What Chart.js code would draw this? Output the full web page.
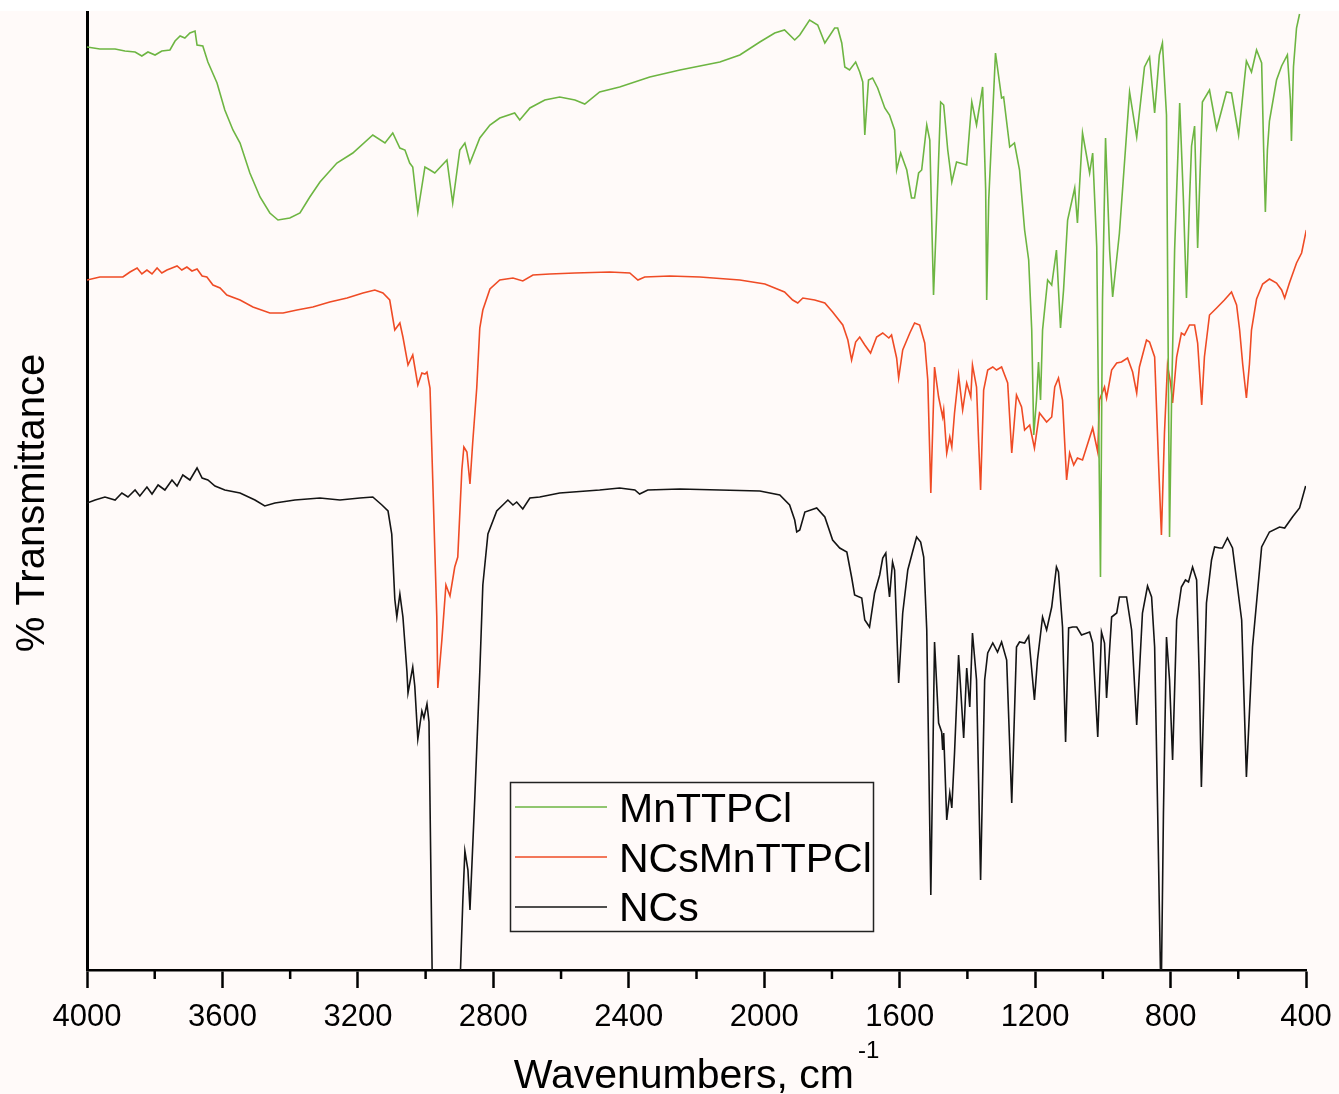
<!DOCTYPE html>
<html>
<head>
<meta charset="utf-8">
<script src="https://cdn.jsdelivr.net/npm/chart.js@4.4.1/dist/chart.umd.min.js"></script>
<style>
  html, body { margin: 0; padding: 0; background: #fffaf9; }
  #wrap { width: 1339px; height: 1094px; }
</style>
</head>
<body>
<div id="wrap"><canvas id="ftir" width="1339" height="1094"></canvas></div>
<script>
const seriesNames = ["MnTTPCl", "NCsMnTTPCl", "NCs"];
const seriesColors = ["#6db542", "#ef4b25", "#141414"];
const xTitle = "Wavenumbers, cm";
const xTitleSup = "-1";
const yTitle = "% Transmittance";

// MnTTPCl (offset trace, top)
const mnWavenumbers = [
  4000, 3962, 3917, 3888, 3858, 3838, 3820, 3799, 3779, 3755,
  3740, 3725, 3711, 3696, 3681, 3675, 3658, 3643, 3616, 3593,
  3569, 3548, 3519, 3489, 3460, 3436, 3401, 3371, 3342, 3312,
  3262, 3215, 3156, 3120, 3097, 3076, 3061, 3047, 3038, 3023,
  3002, 2987, 2973, 2937, 2920, 2899, 2884, 2869, 2840, 2810,
  2781, 2737, 2722, 2692, 2648, 2604, 2559, 2530, 2486, 2427,
  2338, 2249, 2190, 2131, 2072, 2013, 1969, 1940, 1910, 1895,
  1866, 1842, 1821, 1792, 1783, 1771, 1762, 1748, 1730, 1718,
  1709, 1703, 1692, 1680, 1665, 1644, 1630, 1615, 1609, 1597,
  1579, 1565, 1556, 1544, 1535, 1520, 1511, 1500, 1491, 1479,
  1470, 1458, 1446, 1432, 1402, 1387, 1373, 1355, 1346, 1343,
  1337, 1317, 1299, 1293, 1275, 1261, 1246, 1231, 1219, 1210,
  1204, 1196, 1190, 1184, 1178, 1163, 1151, 1137, 1125, 1116,
  1104, 1083, 1075, 1060, 1039, 1030, 1018, 1013, 1007, 1001,
  992, 980, 971, 951, 921, 900, 877, 862, 847, 833,
  824, 812, 806, 803, 797, 788, 773, 762, 753, 744,
  738, 729, 720, 706, 685, 664, 649, 635, 620, 599,
  576, 561, 546, 531, 525, 520, 514, 508, 487, 472,
  455, 446, 443, 437, 428, 419,
];
const mnTransmittance = [
  92.3, 92.1, 92.1, 91.9, 91.8, 91.4, 91.8, 91.5, 91.9, 92.0,
  92.9, 93.4, 93.2, 93.7, 93.9, 92.5, 92.4, 90.8, 88.7, 86.0,
  84.0, 82.7, 79.7, 77.3, 75.7, 75.0, 75.2, 75.7, 77.3, 78.8,
  80.7, 81.7, 83.5, 82.7, 83.7, 82.2, 82.0, 80.7, 80.3, 75.8,
  80.3, 80.0, 79.7, 81.0, 76.7, 82.0, 82.7, 80.7, 83.2, 84.5,
  85.2, 85.7, 85.0, 86.2, 87.0, 87.3, 87.0, 86.6, 87.8, 88.3,
  89.3, 90.0, 90.4, 90.8, 91.5, 92.8, 93.7, 94.0, 93.0, 93.5,
  95.0, 94.5, 92.7, 94.2, 94.2, 92.7, 90.3, 90.0, 90.8, 89.8,
  88.8, 83.5, 89.0, 89.2, 88.2, 86.2, 85.5, 84.0, 80.0, 81.7,
  80.0, 77.2, 77.2, 79.7, 80.0, 84.5, 83.0, 67.5, 75.3, 86.8,
  86.5, 82.0, 78.8, 80.8, 80.5, 86.8, 84.5, 88.3, 78.0, 67.0,
  77.0, 91.7, 87.2, 87.3, 82.3, 82.7, 80.0, 74.0, 71.0, 64.0,
  53.5, 57.0, 60.8, 57.0, 64.0, 69.0, 68.5, 72.0, 64.2, 68.0,
  75.0, 78.2, 74.7, 83.7, 79.7, 81.7, 72.3, 57.0, 39.3, 67.0,
  83.2, 72.0, 67.3, 73.7, 87.8, 83.3, 90.3, 91.3, 85.7, 91.5,
  92.7, 85.5, 57.0, 43.3, 57.0, 72.0, 86.7, 77.0, 67.2, 77.0,
  82.4, 84.4, 72.2, 86.8, 88.0, 84.1, 86.0, 87.8, 87.7, 83.5,
  90.9, 89.8, 92.0, 90.7, 82.0, 75.8, 82.0, 84.9, 89.0, 90.4,
  91.5, 87.0, 82.9, 90.3, 94.2, 95.6,
];

// NCsMnTTPCl (middle trace)
const ncsMnWavenumbers = [
  4000, 3962, 3923, 3894, 3873, 3852, 3838, 3823, 3808, 3793,
  3779, 3764, 3749, 3734, 3720, 3705, 3690, 3675, 3660, 3646,
  3628, 3607, 3587, 3548, 3510, 3460, 3421, 3380, 3333, 3283,
  3232, 3185, 3150, 3126, 3106, 3091, 3076, 3067, 3052, 3038,
  3023, 3011, 3002, 2996, 2987, 2979, 2967, 2964, 2952, 2940,
  2928, 2914, 2905, 2893, 2887, 2878, 2869, 2861, 2849, 2840,
  2831, 2810, 2781, 2742, 2713, 2683, 2633, 2559, 2456, 2397,
  2373, 2353, 2279, 2190, 2072, 1998, 1940, 1916, 1901, 1886,
  1851, 1821, 1798, 1768, 1753, 1742, 1730, 1718, 1703, 1686,
  1668, 1650, 1632, 1624, 1609, 1603, 1591, 1570, 1556, 1541,
  1526, 1517, 1508, 1497, 1485, 1473, 1470, 1461, 1452, 1446,
  1438, 1426, 1414, 1402, 1390, 1385, 1373, 1367, 1361, 1352,
  1340, 1325, 1314, 1299, 1281, 1269, 1255, 1240, 1231, 1216,
  1202, 1187, 1166, 1151, 1142, 1131, 1119, 1107, 1098, 1086,
  1075, 1060, 1030, 1015, 1010, 995, 989, 974, 959, 945,
  927, 912, 900, 892, 871, 862, 847, 835, 827, 818,
  809, 800, 794, 782, 768, 759, 744, 729, 720, 708,
  700, 685, 664, 641, 620, 605, 596, 587, 576, 567,
  561, 546, 528, 508, 487, 472, 463, 449, 428, 413,
  399,
];
const ncsMnTransmittance = [
  69.0, 69.3, 69.3, 69.3, 69.8, 70.2, 69.6, 70.0, 69.6, 70.2,
  69.7, 70.0, 70.2, 70.4, 70.0, 70.3, 69.9, 70.1, 69.4, 69.3,
  68.5, 68.2, 67.5, 67.0, 66.3, 65.7, 65.7, 66.0, 66.3, 66.8,
  67.2, 67.7, 68.0, 67.7, 67.0, 64.0, 64.7, 63.3, 60.5, 61.5,
  58.5, 59.7, 59.6, 59.8, 58.2, 49.1, 35.3, 28.2, 33.0, 38.5,
  37.4, 40.3, 41.3, 50.0, 52.3, 51.8, 48.6, 52.7, 58.2, 64.2,
  66.0, 68.1, 69.0, 69.2, 68.9, 69.5, 69.6, 69.7, 69.8, 69.7,
  69.0, 69.3, 69.4, 69.3, 69.0, 68.6, 67.8, 67.0, 66.7, 67.2,
  67.0, 66.7, 65.8, 64.5, 63.0, 61.0, 62.8, 63.3, 62.5, 61.7,
  63.3, 63.7, 63.2, 63.5, 61.2, 59.2, 62.0, 63.7, 64.7, 64.5,
  62.7, 59.0, 47.7, 60.3, 57.3, 55.3, 56.0, 51.7, 53.3, 52.3,
  55.7, 59.5, 56.0, 58.7, 57.3, 60.5, 58.3, 53.0, 48.0, 58.0,
  60.0, 60.3, 60.0, 60.3, 58.7, 51.7, 57.5, 56.3, 54.0, 54.5,
  52.2, 55.7, 54.8, 55.3, 58.3, 59.2, 57.0, 49.0, 51.7, 50.5,
  51.2, 51.0, 54.2, 51.8, 57.0, 58.3, 57.2, 60.0, 60.7, 60.8,
  61.2, 59.8, 57.7, 60.3, 63.0, 62.8, 61.3, 50.3, 43.5, 53.7,
  60.5, 58.7, 56.7, 61.3, 63.7, 63.5, 64.5, 64.5, 62.7, 56.5,
  61.3, 65.5, 66.2, 67.0, 67.8, 66.5, 64.0, 60.6, 57.2, 60.6,
  64.0, 67.1, 68.6, 69.1, 68.7, 68.0, 67.2, 68.7, 70.7, 71.7,
  74.0,
];

// NCs (bottom trace, strongest bands run past the axis)
const ncsWavenumbers = [
  4000, 3976, 3947, 3917, 3897, 3879, 3858, 3844, 3823, 3808,
  3790, 3770, 3749, 3734, 3717, 3696, 3675, 3660, 3643, 3622,
  3593, 3548, 3504, 3475, 3445, 3386, 3312, 3253, 3194, 3156,
  3129, 3111, 3100, 3091, 3085, 3076, 3067, 3055, 3052, 3038,
  3032, 3023, 3011, 3005, 2996, 2990, 2980, 2960, 2920, 2899,
  2890, 2884, 2875, 2869, 2855, 2840, 2831, 2816, 2790, 2772,
  2757, 2742, 2731, 2713, 2692, 2663, 2604, 2486, 2427, 2382,
  2368, 2344, 2249, 2131, 2013, 1954, 1925, 1910, 1904, 1895,
  1880, 1845, 1821, 1798, 1777, 1756, 1742, 1733, 1712, 1703,
  1689, 1674, 1659, 1650, 1641, 1635, 1630, 1621, 1615, 1603,
  1591, 1576, 1562, 1550, 1538, 1529, 1520, 1508, 1497, 1485,
  1476, 1473, 1470, 1461, 1452, 1446, 1438, 1426, 1411, 1402,
  1393, 1385, 1373, 1361, 1349, 1340, 1325, 1311, 1299, 1284,
  1269, 1255, 1246, 1231, 1219, 1202, 1193, 1178, 1166, 1151,
  1137, 1131, 1119, 1110, 1101, 1089, 1077, 1063, 1039, 1030,
  1015, 1004, 995, 989, 974, 959, 951, 930, 915, 900,
  883, 868, 856, 847, 838, 830, 827, 821, 812, 803,
  794, 782, 768, 756, 747, 735, 723, 715, 709, 694,
  679, 670, 655, 647, 632, 617, 590, 576, 558, 531,
  508, 478, 463, 440, 419, 401,
];
const ncsTransmittance = [
  46.7, 47.0, 47.3, 47.0, 47.7, 47.3, 48.0, 47.4, 48.3, 47.6,
  48.5, 48.0, 49.0, 48.4, 49.5, 49.0, 50.2, 49.2, 49.0, 48.4,
  48.0, 47.7, 47.0, 46.4, 46.7, 47.0, 47.2, 47.0, 47.2, 47.3,
  46.5, 45.9, 43.6, 37.1, 35.3, 37.6, 35.3, 29.8, 27.7, 30.3,
  28.4, 23.1, 25.9, 25.2, 26.6, 24.8, -2.0, -10.0, -10.0, -2.0,
  7.0, 11.9, 10.0, 6.0, 17.0, 29.8, 38.5, 43.6, 45.9, 46.5,
  47.0, 46.5, 46.8, 46.1, 47.2, 47.3, 47.7, 48.0, 48.2, 48.0,
  47.6, 48.0, 48.1, 48.0, 47.9, 47.5, 46.5, 45.0, 43.8, 44.0,
  45.8, 46.2, 45.3, 43.0, 42.2, 41.8, 39.3, 37.5, 37.2, 35.0,
  34.3, 37.7, 39.5, 41.2, 41.7, 39.0, 37.3, 40.8, 40.0, 28.7,
  35.7, 40.0, 41.8, 43.3, 42.8, 41.3, 34.0, 7.5, 32.8, 24.7,
  23.8, 22.0, 23.7, 15.0, 17.7, 16.2, 21.7, 31.5, 23.2, 30.2,
  26.3, 33.7, 29.0, 9.0, 29.0, 31.7, 32.7, 31.8, 32.8, 31.0,
  16.7, 32.3, 32.8, 32.7, 33.4, 27.0, 31.0, 35.3, 34.0, 36.3,
  40.3, 39.8, 34.3, 22.8, 34.2, 34.3, 34.3, 33.5, 33.8, 32.7,
  23.3, 33.8, 32.7, 27.2, 35.3, 35.7, 37.3, 37.3, 34.0, 24.5,
  35.7, 38.4, 37.3, 32.3, 15.7, 0.2, -1.0, 15.7, 33.3, 29.0,
  21.0, 35.0, 38.3, 39.0, 38.8, 40.3, 39.0, 29.0, 18.3, 36.7,
  41.0, 42.3, 42.2, 42.2, 43.2, 42.2, 35.0, 19.3, 32.3, 42.3,
  43.8, 44.3, 44.2, 45.3, 46.2, 48.4,
];

const xTicksMajor = [4000, 3600, 3200, 2800, 2400, 2000, 1600, 1200, 800, 400];

function toPoints(wavenumbers, values) {
  return wavenumbers.map((wn, i) => ({ x: wn, y: values[i] }));
}

const FONT = "'Liberation Sans', Arial, sans-serif";
Chart.defaults.font.family = FONT;
Chart.defaults.color = "#000";

// tinted page with the white strip along the top
const backdrop = {
  id: "backdrop",
  beforeDraw(chart) {
    const { ctx, width, height } = chart;
    ctx.save();
    ctx.fillStyle = "#fffaf9";
    ctx.fillRect(0, 0, width, height);
    ctx.fillStyle = "#ffffff";
    ctx.fillRect(0, 0, width, 11);
    ctx.restore();
  },
};

// short ticks halfway between the labelled ones
const minorTicks = {
  id: "minorTicks",
  afterDraw(chart) {
    const scale = chart.scales.x;
    const { ctx } = chart;
    ctx.save();
    ctx.strokeStyle = "#000";
    ctx.lineWidth = 2.5;
    scale.ticks.forEach((tick) => {
      if (xTicksMajor.includes(tick.value)) return;
      const px = scale.getPixelForValue(tick.value);
      ctx.beginPath();
      ctx.moveTo(px, scale.top);
      ctx.lineTo(px, scale.top + 9);
      ctx.stroke();
    });
    ctx.restore();
  },
};

// axis titles (x title needs a superscript)
const axisTitles = {
  id: "axisTitles",
  afterDraw(chart) {
    const { ctx, chartArea } = chart;
    ctx.save();
    ctx.fillStyle = "#000";
    ctx.font = `41px ${FONT}`;
    const mainW = ctx.measureText(xTitle).width;
    ctx.font = `24px ${FONT}`;
    const supW = ctx.measureText(xTitleSup).width;
    const cx = (chartArea.left + chartArea.right) / 2;
    const start = cx - (mainW + supW + 4) / 2;
    ctx.textBaseline = "alphabetic";
    ctx.textAlign = "left";
    ctx.font = `41px ${FONT}`;
    ctx.fillText(xTitle, start, 1088);
    ctx.font = `24px ${FONT}`;
    ctx.fillText(xTitleSup, start + mainW + 4, 1058);

    ctx.translate(33, 503);
    ctx.rotate(-Math.PI / 2);
    ctx.font = `40px ${FONT}`;
    ctx.textAlign = "center";
    ctx.textBaseline = "middle";
    ctx.fillText(yTitle, 0, 0);
    ctx.restore();
  },
};

// boxed legend inside the plot
const boxLegend = {
  id: "boxLegend",
  afterDraw(chart) {
    const { ctx } = chart;
    const box = { x: 510.5, y: 782.5, w: 363, h: 149 };
    ctx.save();
    ctx.fillStyle = "#fffaf9";
    ctx.fillRect(box.x, box.y, box.w, box.h);
    ctx.strokeStyle = "#222";
    ctx.lineWidth = 1.5;
    ctx.strokeRect(box.x, box.y, box.w, box.h);
    const lineY = [807, 857, 907];
    const textY = [822, 872, 921];
    ctx.font = `41px ${FONT}`;
    ctx.textAlign = "left";
    ctx.textBaseline = "alphabetic";
    chart.data.datasets.forEach((ds, i) => {
      ctx.strokeStyle = ds.borderColor;
      ctx.lineWidth = 1.5;
      ctx.beginPath();
      ctx.moveTo(515, lineY[i]);
      ctx.lineTo(607, lineY[i]);
      ctx.stroke();
      ctx.fillStyle = "#000";
      ctx.fillText(ds.label, 619, textY[i]);
    });
    ctx.restore();
  },
};

const seriesData = [
  toPoints(mnWavenumbers, mnTransmittance),
  toPoints(ncsMnWavenumbers, ncsMnTransmittance),
  toPoints(ncsWavenumbers, ncsTransmittance),
];

new Chart(document.getElementById("ftir"), {
  type: "line",
  data: {
    datasets: seriesNames.map((name, i) => ({
      label: name,
      data: seriesData[i],
      borderColor: seriesColors[i],
      borderWidth: 1.6,
      pointRadius: 0,
      tension: 0,
      fill: false,
    })),
  },
  options: {
    responsive: false,
    animation: false,
    layout: { padding: { top: 12, right: 33, left: 0, bottom: 0 } },
    plugins: { legend: { display: false }, tooltip: { enabled: false } },
    scales: {
      x: {
        type: "linear",
        reverse: true,
        min: 400,
        max: 4000,
        offset: false,
        afterFit(scale) {
          scale.height = 124;
          // edge labels may hang past the plot; keep the plot edges fixed
          scale.paddingLeft = 0;
          scale.paddingRight = 0;
        },
        border: { display: true, color: "#000", width: 2.5 },
        grid: {
          drawOnChartArea: false,
          drawTicks: true,
          tickLength: 18,
          tickWidth: 2.5,
          tickColor: (ctx) => (ctx.tick && xTicksMajor.includes(ctx.tick.value) ? "#000" : "rgba(0,0,0,0)"),
        },
        ticks: {
          stepSize: 200,
          autoSkip: false,
          maxRotation: 0,
          padding: 11,
          font: { size: 31 },
          color: "#000",
          callback: (value) => (xTicksMajor.includes(value) ? String(value) : ""),
        },
      },
      y: {
        min: 0,
        max: 95.8,
        afterFit(scale) { scale.width = 87; },
        border: { display: true, color: "#000", width: 3 },
        grid: { drawOnChartArea: false, drawTicks: false },
        ticks: { display: false },
      },
    },
  },
  plugins: [backdrop, minorTicks, axisTitles, boxLegend],
});
</script>
</body>
</html>
